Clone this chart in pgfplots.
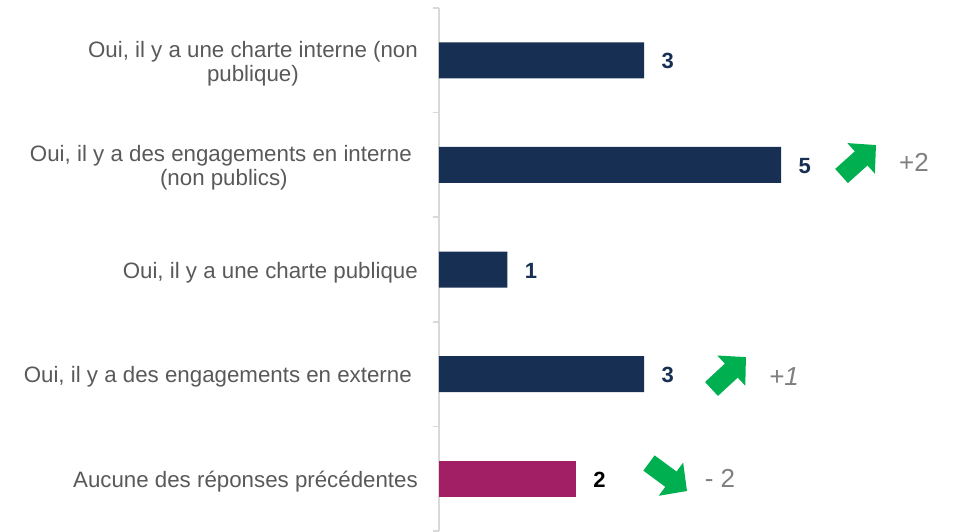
\documentclass[border=0pt]{standalone}
\usepackage{pgfplots}
\pgfplotsset{compat=1.18}
\usepackage{fontspec}
\setmainfont{Liberation Sans}
\usetikzlibrary{arrows.meta}
\definecolor{navy}{HTML}{172F52}
\definecolor{barmag}{HTML}{A21F66}
\definecolor{arrgreen}{HTML}{00B050}
\definecolor{annot}{HTML}{7F7F7F}
\definecolor{lab}{HTML}{595959}
\definecolor{axisgray}{HTML}{D9D9D9}
\begin{document}
\begin{tikzpicture}
\begin{axis}[
  at={(0,0)}, anchor=south west,
  scale only axis, width=518pt, height=523pt,
  xbar, bar width=36pt, bar shift=0pt,
  xmin=0, xmax=7.573,
  ymin=0.5, ymax=5.5, y dir=reverse,
  hide x axis,
  axis y line*=left,
  axis line style={draw=axisgray, line width=1.5pt},
  ytick={1,2,3,4,5},
  yticklabels={{Oui, il y a une charte interne (non\\publique)},
               {Oui, il y a des engagements en interne\hspace*{6pt}\\(non publics)},
               {Oui, il y a une charte publique},
               {Oui, il y a des engagements en externe\hspace*{6pt}},
               {Aucune des réponses précédentes}},
  major tick length=0pt,
  extra y ticks={0.5,1.5,2.5,3.5,4.5,5.5},
  extra y tick labels={},
  extra y tick style={major tick length=6pt, tick align=outside,
     tick style={draw=axisgray, line width=1.5pt}},
  yticklabel style={font=\fontsize{22.3}{24}\selectfont, text=lab, align=center,
     anchor=east, inner sep=0pt, xshift=-21pt, yshift=-3pt},
  nodes near coords,
  nodes near coords style={anchor=west, xshift=14pt, yshift=-1pt, font=\fontsize{22}{22}\selectfont\bfseries},
  point meta=x,
  /pgf/number format/assume math mode=true,
  clip=false,
]
\addplot[fill=navy, draw=none, nodes near coords style={text=navy}] coordinates {(3,1) (5,2) (1,3) (3,4)};
\addplot[fill=barmag, draw=none, nodes near coords style={text=black}] coordinates {(2,5)};

\draw[arrgreen, line width=19pt, -{Triangle[length=20pt,width=40pt]}] (axis cs:5.885,2.106) -- (axis cs:6.389,1.810);
\draw[arrgreen, line width=19pt, -{Triangle[length=20pt,width=40pt]}] (axis cs:3.984,4.142) -- (axis cs:4.488,3.837);
\draw[arrgreen, line width=19pt, -{Triangle[length=20pt,width=40pt]}] (axis cs:3.070,4.850) -- (axis cs:3.626,5.118);

\node[text=annot, font=\fontsize{26}{26}\selectfont] at (axis cs:6.944,1.972) {+2};
\node[text=annot, font=\fontsize{26}{26}\selectfont\itshape] at (axis cs:5.044,4.028) {+1};
\node[text=annot, font=\fontsize{26}{26}\selectfont] at (axis cs:4.108,4.993) {- 2};
\end{axis}
\pgfresetboundingbox
\path (-439pt,0pt) rectangle (518pt,531pt);
\end{tikzpicture}
\end{document}
